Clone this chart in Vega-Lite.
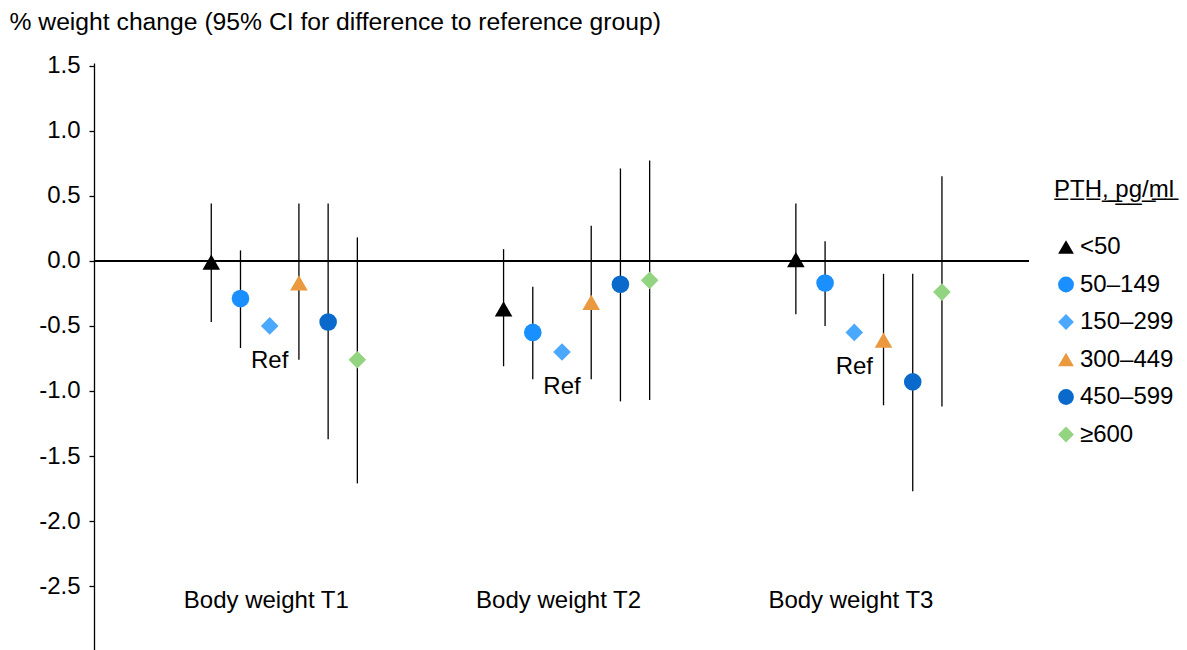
{
  "$schema": "https://vega.github.io/schema/vega-lite/v6.json",
  "autosize": "none",
  "padding": {"left": 94, "top": 63, "right": 158, "bottom": 0},
  "width": 935,
  "height": 587,
  "background": "white",
  "config": {
    "font": "Liberation Sans",
    "view": {"stroke": null},
    "axis": {"labelFont": "Liberation Sans", "titleFont": "Liberation Sans", "labelColor": "#000", "titleColor": "#000"}
  },
  "data": {
    "values": [
      {"time": "Body weight T1", "pth": "<50", "est": -0.01, "lo": -0.47, "hi": 0.44},
      {"time": "Body weight T1", "pth": "50–149", "est": -0.29, "lo": -0.67, "hi": 0.08},
      {"time": "Body weight T1", "pth": "150–299", "est": -0.50, "lo": null, "hi": null, "note": "Ref"},
      {"time": "Body weight T1", "pth": "300–449", "est": -0.17, "lo": -0.76, "hi": 0.44},
      {"time": "Body weight T1", "pth": "450–599", "est": -0.47, "lo": -1.37, "hi": 0.44},
      {"time": "Body weight T1", "pth": "≥600", "est": -0.76, "lo": -1.71, "hi": 0.18},
      {"time": "Body weight T2", "pth": "<50", "est": -0.37, "lo": -0.81, "hi": 0.09},
      {"time": "Body weight T2", "pth": "50–149", "est": -0.55, "lo": -0.91, "hi": -0.20},
      {"time": "Body weight T2", "pth": "150–299", "est": -0.70, "lo": null, "hi": null, "note": "Ref"},
      {"time": "Body weight T2", "pth": "300–449", "est": -0.32, "lo": -0.91, "hi": 0.27},
      {"time": "Body weight T2", "pth": "450–599", "est": -0.18, "lo": -1.08, "hi": 0.71},
      {"time": "Body weight T2", "pth": "≥600", "est": -0.15, "lo": -1.07, "hi": 0.77},
      {"time": "Body weight T3", "pth": "<50", "est": 0.01, "lo": -0.41, "hi": 0.44},
      {"time": "Body weight T3", "pth": "50–149", "est": -0.17, "lo": -0.50, "hi": 0.15},
      {"time": "Body weight T3", "pth": "150–299", "est": -0.55, "lo": null, "hi": null, "note": "Ref"},
      {"time": "Body weight T3", "pth": "300–449", "est": -0.61, "lo": -1.11, "hi": -0.10},
      {"time": "Body weight T3", "pth": "450–599", "est": -0.93, "lo": -1.77, "hi": -0.10},
      {"time": "Body weight T3", "pth": "≥600", "est": -0.24, "lo": -1.12, "hi": 0.65}
    ]
  },
  "encoding": {
    "x": {
      "field": "time",
      "type": "nominal",
      "scale": {"paddingInner": 0, "paddingOuter": 0.0994, "align": 0.76},
      "axis": {
        "title": null,
        "domain": false,
        "ticks": false,
        "tickSize": 0,
        "labelAngle": 0,
        "labelFontSize": 24,
        "labelBaseline": "middle",
        "labelPadding": -50,
        "labelOffset": -18
      }
    },
    "xOffset": {
      "field": "pth",
      "type": "nominal",
      "sort": ["<50", "50–149", "150–299", "300–449", "450–599", "≥600"],
      "scale": {"paddingInner": 0, "paddingOuter": 0, "range": [58.5, 233.8]}
    }
  },
  "layer": [
    {
      "mark": {"type": "rule", "color": "#000", "strokeWidth": 1.3},
      "encoding": {"x": null, "xOffset": null, "y": {"datum": 0}}
    },
    {
      "mark": {"type": "rule", "color": "#000", "strokeWidth": 1.3},
      "transform": [{"filter": "datum.lo != null"}],
      "encoding": {
        "y": {"field": "lo", "type": "quantitative"},
        "y2": {"field": "hi"}
      }
    },
    {
      "mark": {"type": "point", "filled": true, "opacity": 1, "size": 310},
      "encoding": {
        "y": {
          "field": "est",
          "type": "quantitative",
          "scale": {"domain": [-2.99, 1.52], "nice": false, "zero": false},
          "axis": {
            "title": "% weight change (95% CI for difference to reference group)",
            "titleAngle": 0,
            "titleAlign": "left",
            "titleBaseline": "middle",
            "titleX": -85,
            "titleY": -41,
            "titleFontSize": 24.7,
            "titleFontWeight": "normal",
            "values": [-2.5, -2, -1.5, -1, -0.5, 0, 0.5, 1, 1.5],
            "labelExpr": "replace(format(datum.value, '.1f'), '−', '-')",
            "labelFontSize": 24,
            "labelPadding": 9,
            "tickSize": 5,
            "tickColor": "#000",
            "domainColor": "#000",
            "domainWidth": 1.3,
            "tickWidth": 1.3,
            "grid": false
          }
        },
        "color": {
          "field": "pth",
          "type": "nominal",
          "scale": {
            "domain": ["<50", "50–149", "150–299", "300–449", "450–599", "≥600"],
            "range": ["#000000", "#1A8FFF", "#4AA8FF", "#EA993E", "#0A6ACC", "#92D47F"]
          },
          "legend": {
            "title": "P̲T̲H̲,̲ ̲p̲g̲/̲m̲l̲",
            "orient": "none",
            "legendX": 960,
            "legendY": 115,
            "padding": 0,
            "titleFontSize": 24,
            "titleFontWeight": "normal",
            "titleColor": "#000",
            "titlePadding": 33,
            "labelFontSize": 24,
            "labelColor": "#000",
            "labelOffset": 2,
            "symbolSize": 250,
            "symbolOpacity": 1,
            "rowPadding": 13.5
          }
        },
        "shape": {
          "field": "pth",
          "type": "nominal",
          "scale": {
            "domain": ["<50", "50–149", "150–299", "300–449", "450–599", "≥600"],
            "range": ["triangle-up", "circle", "diamond", "triangle-up", "circle", "diamond"]
          },
          "legend": null
        }
      }
    },
    {
      "mark": {"type": "text", "fontSize": 24, "dy": 35, "color": "#000", "font": "Liberation Sans"},
      "transform": [{"filter": "datum.note != null"}],
      "encoding": {
        "y": {"field": "est", "type": "quantitative"},
        "text": {"field": "note"}
      }
    }
  ]
}
